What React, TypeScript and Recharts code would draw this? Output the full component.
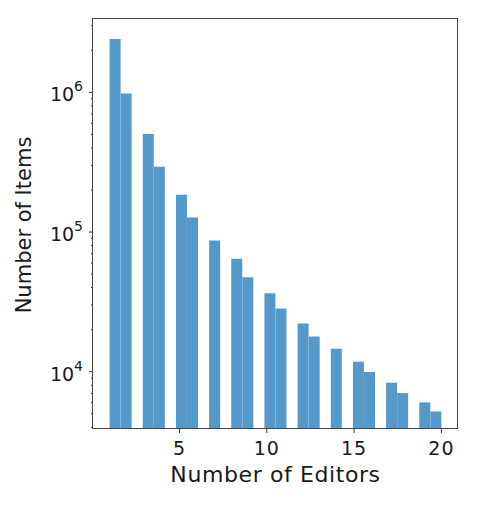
import { BarChart, Bar, XAxis, YAxis, Label } from "recharts";

// counts of items per number of editors
const editors = [1, 2, 3, 4, 5, 6, 7, 8, 9, 10, 11, 12, 13, 14, 15, 16, 17, 18, 19, 20];
const items = [
  2410000, 980000, 503000, 293000, 185000, 127000, 87000, 64500, 47400, 36400,
  28300, 22100, 17900, 14600, 11800, 9950, 8340, 7030, 6030, 5190,
];

// histogram binning used in the original (30 bins from 1 to 20)
const binStart = 1;
const binEnd = 20;
const binCount = 30;

const xTicks = [5, 10, 15, 20];
const yTicks = [
  4000, 5000, 6000, 7000, 8000, 9000, 10000, 20000, 30000, 40000, 50000, 60000,
  70000, 80000, 90000, 100000, 200000, 300000, 400000, 500000, 600000, 700000,
  800000, 900000, 1000000, 2000000, 3000000,
];

const binWidth = (binEnd - binStart) / binCount;
const data = editors.map((e, i) => {
  const k = Math.min(Math.floor((e - binStart) / binWidth + 1e-9), binCount - 1);
  return { center: binStart + (k + 0.5) * binWidth, count: items[i] };
});

const FONT = "DejaVu Sans";
const INK = "#1a1a1a";

function XTick({ x, y, payload }: any) {
  return (
    <g>
      <line x1={x} x2={x} y1={y} y2={y + 4} stroke="#333" />
      <text x={x} y={y + 26} textAnchor="middle" fontSize={19} letterSpacing={1} fontFamily={FONT} fill={INK}>
        {payload.value}
      </text>
    </g>
  );
}

function YTick({ x, y, payload }: any) {
  const exp = Math.log10(payload.value);
  const major = Math.abs(exp - Math.round(exp)) < 1e-6;
  if (!major) {
    return <line x1={x} x2={x - 2} y1={y} y2={y} stroke="#333" />;
  }
  return (
    <g>
      <line x1={x} x2={x - 4} y1={y} y2={y} stroke="#333" />
      <text x={x - 10} y={y + 9} textAnchor="end" fontFamily={FONT} fill={INK} fontSize={19}>
        10
        <tspan fontSize={14} dy={-10}>
          {Math.round(exp)}
        </tspan>
      </text>
    </g>
  );
}

export default function App() {
  return (
    <div style={{ position: "absolute", left: 0, top: 0, width: 478, height: 510, background: "#fff" }}>
      <BarChart
        width={478}
        height={510}
        data={data}
        margin={{ top: 19, right: 20, bottom: 41, left: 33 }}
        barCategoryGap={0}
        barGap={0}
      >
        <XAxis
          dataKey="center"
          type="number"
          domain={[0.05, 20.95]}
          allowDataOverflow
          ticks={xTicks}
          tick={(p: any) => <XTick {...p} />}
          tickLine={false}
          axisLine={false}
          tickSize={0}
          tickMargin={0}
          height={40}
        >
          <Label
            content={() => (
              <text
                x={275.5}
                y={482}
                textAnchor="middle"
                fontSize={22}
                letterSpacing={0.6}
                fontFamily={FONT}
                fill={INK}
              >
                Number of Editors
              </text>
            )}
          />
        </XAxis>
        <YAxis
          scale="log"
          domain={[3890, 3350000]}
          allowDataOverflow
          ticks={yTicks}
          interval={0}
          tick={(p: any) => <YTick {...p} />}
          tickLine={false}
          axisLine={false}
          tickSize={0}
          tickMargin={0}
          width={60}
        >
          <Label
            content={() => (
              <text
                x={31}
                y={225}
                transform="rotate(-90, 31, 225)"
                textAnchor="middle"
                fontSize={21}
                fontFamily={FONT}
                fill={INK}
              >
                Number of Items
              </text>
            )}
          />
        </YAxis>
        <Bar dataKey="count" fill="#5598ca" isAnimationActive={false} />
      </BarChart>
      <div
        style={{
          position: "absolute",
          left: 92,
          top: 18,
          width: 366,
          height: 411,
          border: "1px solid #444",
          boxSizing: "border-box",
          pointerEvents: "none",
        }}
      />
    </div>
  );
}
